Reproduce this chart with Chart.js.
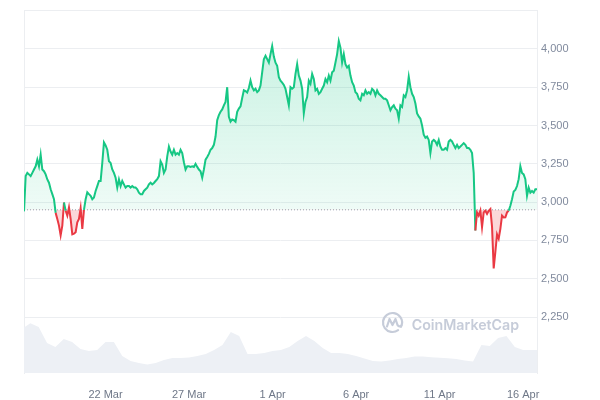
<!DOCTYPE html>
<html>
<head>
<meta charset="utf-8">
<script src="https://cdn.jsdelivr.net/npm/chart.js@4.4.1/dist/chart.umd.min.js"></script>
<style>
  html, body { margin: 0; padding: 0; background: #fff; }
  #wrap { width: 600px; height: 400px; }
</style>
</head>
<body>
<div id="wrap"><canvas id="chart"></canvas></div>
<script>
// price, sampled about every 2.4 h, x in days after 17 Mar 00:00
var startDay = 0.12;
var stepDays = 0.0997;
var prices = [
  2940,3170,3191,3181,3170,3191,3213,3234,3277,3234,
  3310,3213,3202,3181,3148,3127,3084,3052,3019,2930,
  2890,2847,2783,2847,2998,2944,2912,2966,2890,2790,
  2794,2804,2869,2890,2960,2826,2950,3019,3064,3052,
  3041,3019,3030,3073,3105,3138,3138,3256,3390,3370,
  3342,3267,3256,3213,3191,3159,3095,3148,3105,3138,
  3116,3095,3105,3105,3095,3105,3095,3095,3084,3062,
  3052,3052,3073,3084,3095,3116,3127,3116,3125,3138,
  3150,3170,3267,3245,3191,3213,3299,3363,3330,3310,
  3342,3310,3320,3310,3342,3320,3260,3213,3234,3234,
  3230,3234,3230,3250,3230,3213,3202,3159,3213,3277,
  3295,3315,3342,3353,3374,3428,3535,3568,3590,3605,
  3632,3654,3750,3557,3525,3540,3535,3525,3589,3611,
  3625,3680,3730,3725,3715,3745,3793,3750,3729,3740,
  3718,3729,3761,3847,3933,3955,3933,3911,3966,4019,
  3950,3910,3890,3815,3793,3780,3765,3740,3686,3632,
  3750,3740,3750,3837,3901,3826,3793,3740,3580,3654,
  3686,3793,3772,3837,3804,3729,3740,3707,3718,3740,
  3761,3804,3783,3826,3793,3847,3858,3911,3966,4051,
  4008,3911,3966,3901,3879,3890,3826,3783,3761,3718,
  3707,3675,3664,3707,3697,3729,3707,3718,3707,3740,
  3729,3697,3729,3707,3697,3686,3675,3675,3664,3632,
  3600,3621,3632,3610,3600,3546,3632,3621,3697,3686,
  3729,3819,3750,3707,3686,3644,3579,3560,3545,3500,
  3440,3420,3428,3406,3320,3396,3406,3396,3374,3406,
  3363,3342,3342,3353,3342,3396,3406,3396,3374,3353,
  3374,3353,3363,3374,3385,3374,3353,3353,3342,3320,
  3191,2815,2933,2912,2944,2837,2933,2944,2923,2944,
  2955,2840,2568,2676,2790,2761,2826,2912,2900,2901,
  2933,2944,2976,3019,3070,3080,3105,3150,3234,3190,
  3181,3150,3041,3095,3062,3073,3062,3084,3084
];
var openPrice = 2950;

// volume (bn USD), every 12 h from 17 Mar 00:00
var volumeStepDays = 0.5;
var volumes = [
  22,24.8,23,15,13,17,15.5,12,11,11.5,
  15.5,15.5,8.5,6,5,4.3,5,6.5,7.5,7.5,
  7.8,8.5,9.5,11.5,14,20.5,18.5,9.5,9.5,10,
  11,11.5,13,16,18.5,16,12.5,10,10,9.5,
  8.5,7.3,6,5.8,6.3,7,7.5,8.2,8.2,7.9,
  7.6,7.4,7,6.3,5.8,14,13.5,17.5,18.5,13,
  11.5,11.5,11.5
];

var priceTicks = [2250, 2500, 2750, 3000, 3250, 3500, 3750, 4000, 4250];
var dateTicks = [5, 10, 15, 20, 25, 30];
var dateLabels = ['22 Mar', '27 Mar', '1 Apr', '6 Apr', '11 Apr', '16 Apr'];

var green = '#16c784';
var red = '#ea3943';
var gridColor = '#eceef1';
var tickFont = { family: 'Liberation Sans, Arial, sans-serif', size: 11 };

var endDay = startDay + (prices.length - 1) * stepDays;
var pricePoints = prices.map(function (p, i) { return { x: startDay + i * stepDays, y: p }; });
var volumePoints = volumes.map(function (v, i) { return { x: i * volumeStepDays, y: v }; });

var watermark = {
  id: 'watermark',
  beforeDatasetsDraw: function (chart) {
    var c = chart.ctx, a = chart.chartArea;
    var cx = a.right - 144.5, cy = a.bottom - 50.5;
    c.save();
    c.strokeStyle = '#c6ccd9';
    c.fillStyle = '#c6ccd9';
    c.lineWidth = 2.2;
    c.lineCap = 'round';
    c.lineJoin = 'round';
    c.beginPath();
    c.arc(cx, cy, 9.5, 0.3 * Math.PI, 2.15 * Math.PI);
    c.stroke();
    c.beginPath();
    c.moveTo(cx - 5.5, cy + 4);
    c.lineTo(cx - 3, cy - 3.5);
    c.lineTo(cx, cy + 2.5);
    c.lineTo(cx + 3, cy - 3.5);
    c.lineTo(cx + 5, cy + 2.5);
    c.quadraticCurveTo(cx + 7, cy + 5, cx + 9, cy + 3);
    c.stroke();
    c.font = '600 16px Inter, sans-serif';
    var w = c.measureText('CoinMarketCap').width;
    var size = 16 * 107.5 / w;
    c.font = '600 ' + size.toFixed(2) + 'px Inter, sans-serif';
    c.textBaseline = 'alphabetic';
    c.fillText('CoinMarketCap', a.right - 125.3, a.bottom - 43);
    c.restore();
  }
};

var ctx = document.getElementById('chart').getContext('2d');
var chart = new Chart(ctx, {
  type: 'line',
  data: {
    datasets: [
      {
        label: 'Price',
        data: pricePoints,
        yAxisID: 'y',
        borderColor: green,
        borderWidth: 2,
        pointRadius: 0,
        tension: 0,
        segment: {
          borderColor: function (s) {
            return (s.p0.parsed.y + s.p1.parsed.y) / 2 < openPrice ? red : green;
          }
        },
        backgroundColor: function (c) {
          var ch = c.chart, a = ch.chartArea;
          if (!a) return 'rgba(22,199,132,0.12)';
          var y1 = ch.scales.y.getPixelForValue(openPrice);
          var g = ch.ctx.createLinearGradient(0, a.top, 0, y1);
          g.addColorStop(0, 'rgba(22,199,132,0.26)');
          g.addColorStop(1, 'rgba(22,199,132,0.07)');
          return g;
        },
        fill: { target: { value: openPrice }, below: 'rgba(234,57,67,0.2)' },
        order: 0
      },
      {
        label: 'Open',
        data: [{ x: startDay, y: openPrice }, { x: endDay, y: openPrice }],
        yAxisID: 'y',
        borderColor: '#9aa2b1',
        borderWidth: 1,
        borderDash: [1, 2],
        pointRadius: 0,
        fill: false,
        order: 1
      },
      {
        label: 'Volume',
        data: volumePoints,
        yAxisID: 'yv',
        borderWidth: 0,
        borderColor: 'rgba(0,0,0,0)',
        backgroundColor: '#edf0f5',
        pointRadius: 0,
        tension: 0,
        fill: 'origin',
        order: 2
      }
    ]
  },
  options: {
    responsive: true,
    maintainAspectRatio: false,
    animation: false,
    layout: { padding: { left: 24, top: 10, right: 0, bottom: 0 } },
    plugins: {
      legend: { display: false },
      tooltip: { enabled: false }
    },
    scales: {
      x: {
        type: 'linear',
        min: startDay,
        max: endDay,
        grid: { display: false },
        border: { display: false },
        afterBuildTicks: function (s) {
          s.ticks = dateTicks.map(function (v) { return { value: v }; });
        },
        ticks: {
          autoSkip: false,
          maxRotation: 0,
          padding: 7,
          color: '#6f7888',
          font: tickFont,
          callback: function (v, i) { return dateLabels[i]; }
        },
        afterFit: function (s) { s.height = 27; }
      },
      y: {
        position: 'right',
        min: 1885,
        max: 4250,
        afterBuildTicks: function (s) {
          s.ticks = priceTicks.map(function (v) { return { value: v }; });
        },
        grid: { color: gridColor, drawTicks: false },
        border: { display: true, color: gridColor },
        ticks: {
          padding: 4,
          color: '#808a9d',
          font: tickFont,
          callback: function (v) { return v === 4250 ? '' : v.toLocaleString('en-US'); }
        },
        afterFit: function (s) { s.width = 63; }
      },
      yv: {
        position: 'left',
        min: 0,
        max: 181,
        grid: { display: false },
        ticks: { display: false },
        border: { display: true, color: gridColor },
        afterFit: function (s) { s.width = 0; }
      }
    }
  },
  plugins: [watermark]
});
</script>
</body>
</html>
